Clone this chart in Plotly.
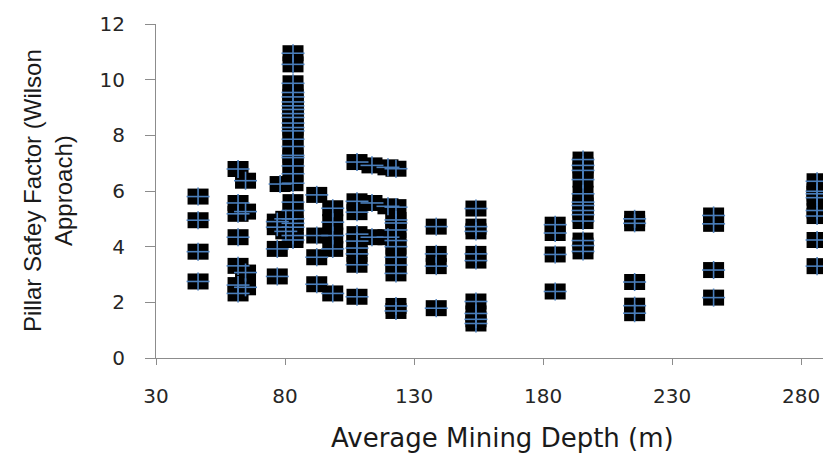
import plotly.graph_objects as go

# Average mining depth (m) for each group of points, and pillar safety factors
depth_groups = [46.3, 61.8, 64.7, 77.0, 78.1, 80.3, 83.1, 92.3, 98.5, 107.9, 113.7,
                119.9, 123.0, 138.6, 154.0, 184.7, 195.5, 215.5, 246.1, 286.2]
safety_groups = [
    [5.8, 4.95, 3.82, 2.75],
    [6.79, 5.57, 5.18, 4.34, 3.31, 2.62, 2.32],
    [6.37, 5.26, 3.07, 2.54],
    [4.9, 4.7, 3.92, 2.93],
    [6.25],
    [5.0, 4.55],
    [10.95, 10.55, 9.87, 9.54, 9.38, 9.2, 9.06, 8.93, 8.78, 8.64, 8.44, 8.28, 8.16,
     7.86, 7.6, 7.28, 7.2, 6.9, 6.62, 6.28, 5.6, 5.3, 5.0, 4.84, 4.7, 4.4, 4.24],
    [5.86, 4.4, 3.62, 2.65],
    [5.38, 4.88, 4.4, 3.92, 2.32],
    [7.04, 5.63, 5.24, 4.45, 4.2, 3.95, 3.74, 3.35, 2.2],
    [6.92, 5.57, 4.34],
    [6.85, 5.45, 4.34],
    [6.8, 5.42, 4.96, 4.85, 4.6, 4.22, 4.0, 3.62, 3.34, 3.04, 1.87, 1.69],
    [4.72, 3.74, 3.3, 1.79],
    [5.37, 4.72, 4.55, 3.74, 3.5, 2.03, 1.6, 1.39, 1.24],
    [4.79, 4.49, 3.72, 2.39],
    [7.13, 6.92, 6.74, 6.41, 5.9, 5.6, 5.48, 5.3, 5.15, 4.92, 4.22, 4.04, 3.83],
    [5.0, 4.84, 2.73, 1.88, 1.61],
    [5.12, 4.82, 3.16, 2.17],
    [6.35, 5.99, 5.9, 5.76, 5.3, 5.1, 4.24, 3.3],
]
x_ticks = [30, 80, 130, 180, 230, 280]
y_ticks = [0, 2, 4, 6, 8, 10, 12]

xs, ys = [], []
for d, vals in zip(depth_groups, safety_groups):
    for v in vals:
        xs.append(d)
        ys.append(v)

fig = go.Figure()
# black rectangular markers
fig.add_trace(go.Scatter(x=xs, y=ys, mode="markers", hoverinfo="skip",
                         marker=dict(symbol="line-ew", size=15,
                                     line=dict(width=16, color="black"))))
# blue cross on each marker
fig.add_trace(go.Scatter(x=xs, y=ys, mode="markers", hoverinfo="skip",
                         marker=dict(symbol="line-ew", size=16.4,
                                     line=dict(width=1.6, color="#4a7ebb"))))
fig.add_trace(go.Scatter(x=xs, y=ys, mode="markers", hoverinfo="skip",
                         marker=dict(symbol="line-ns", size=12.9,
                                     line=dict(width=1.6, color="#4a7ebb"))))

tickfont = dict(family="DejaVu Sans, Verdana, sans-serif", size=20, color="#262626")
fig.update_layout(
    width=823, height=454,
    margin=dict(l=156, r=0, t=24, b=96),
    paper_bgcolor="white", plot_bgcolor="white",
    showlegend=False,
    xaxis=dict(range=[30, 288.5], tickvals=x_ticks, ticktext=[str(t) for t in x_ticks],
               showgrid=False, zeroline=False, showline=True, linecolor="#8c8c8c",
               linewidth=1, ticks="outside", ticklen=6, tickcolor="#8c8c8c",
               tickfont=tickfont, ticklabelstandoff=14),
    yaxis=dict(range=[0, 12], tickvals=y_ticks, ticktext=[str(t) for t in y_ticks],
               showgrid=False, zeroline=False, showline=True, linecolor="#8c8c8c",
               linewidth=1, ticks="outside", ticklen=10, tickcolor="#8c8c8c",
               tickfont=tickfont, ticklabelstandoff=16),
    annotations=[
        dict(text="Average Mining Depth (m)", xref="paper", yref="paper",
             x=0.52, y=0, xanchor="center", yanchor="middle", yshift=-80,
             showarrow=False,
             font=dict(family="DejaVu Sans, Verdana, sans-serif", size=26, color="#1a1a1a")),
        dict(text="Pillar Safey Factor (Wilson<br>Approach)", xref="paper", yref="paper",
             x=0, y=0.5, xanchor="center", yanchor="middle", xshift=-108,
             textangle=-90, showarrow=False,
             font=dict(family="Liberation Sans, Arial, sans-serif",
                       size=24, color="#1a1a1a")),
    ],
)

fig.write_html("out.html")
